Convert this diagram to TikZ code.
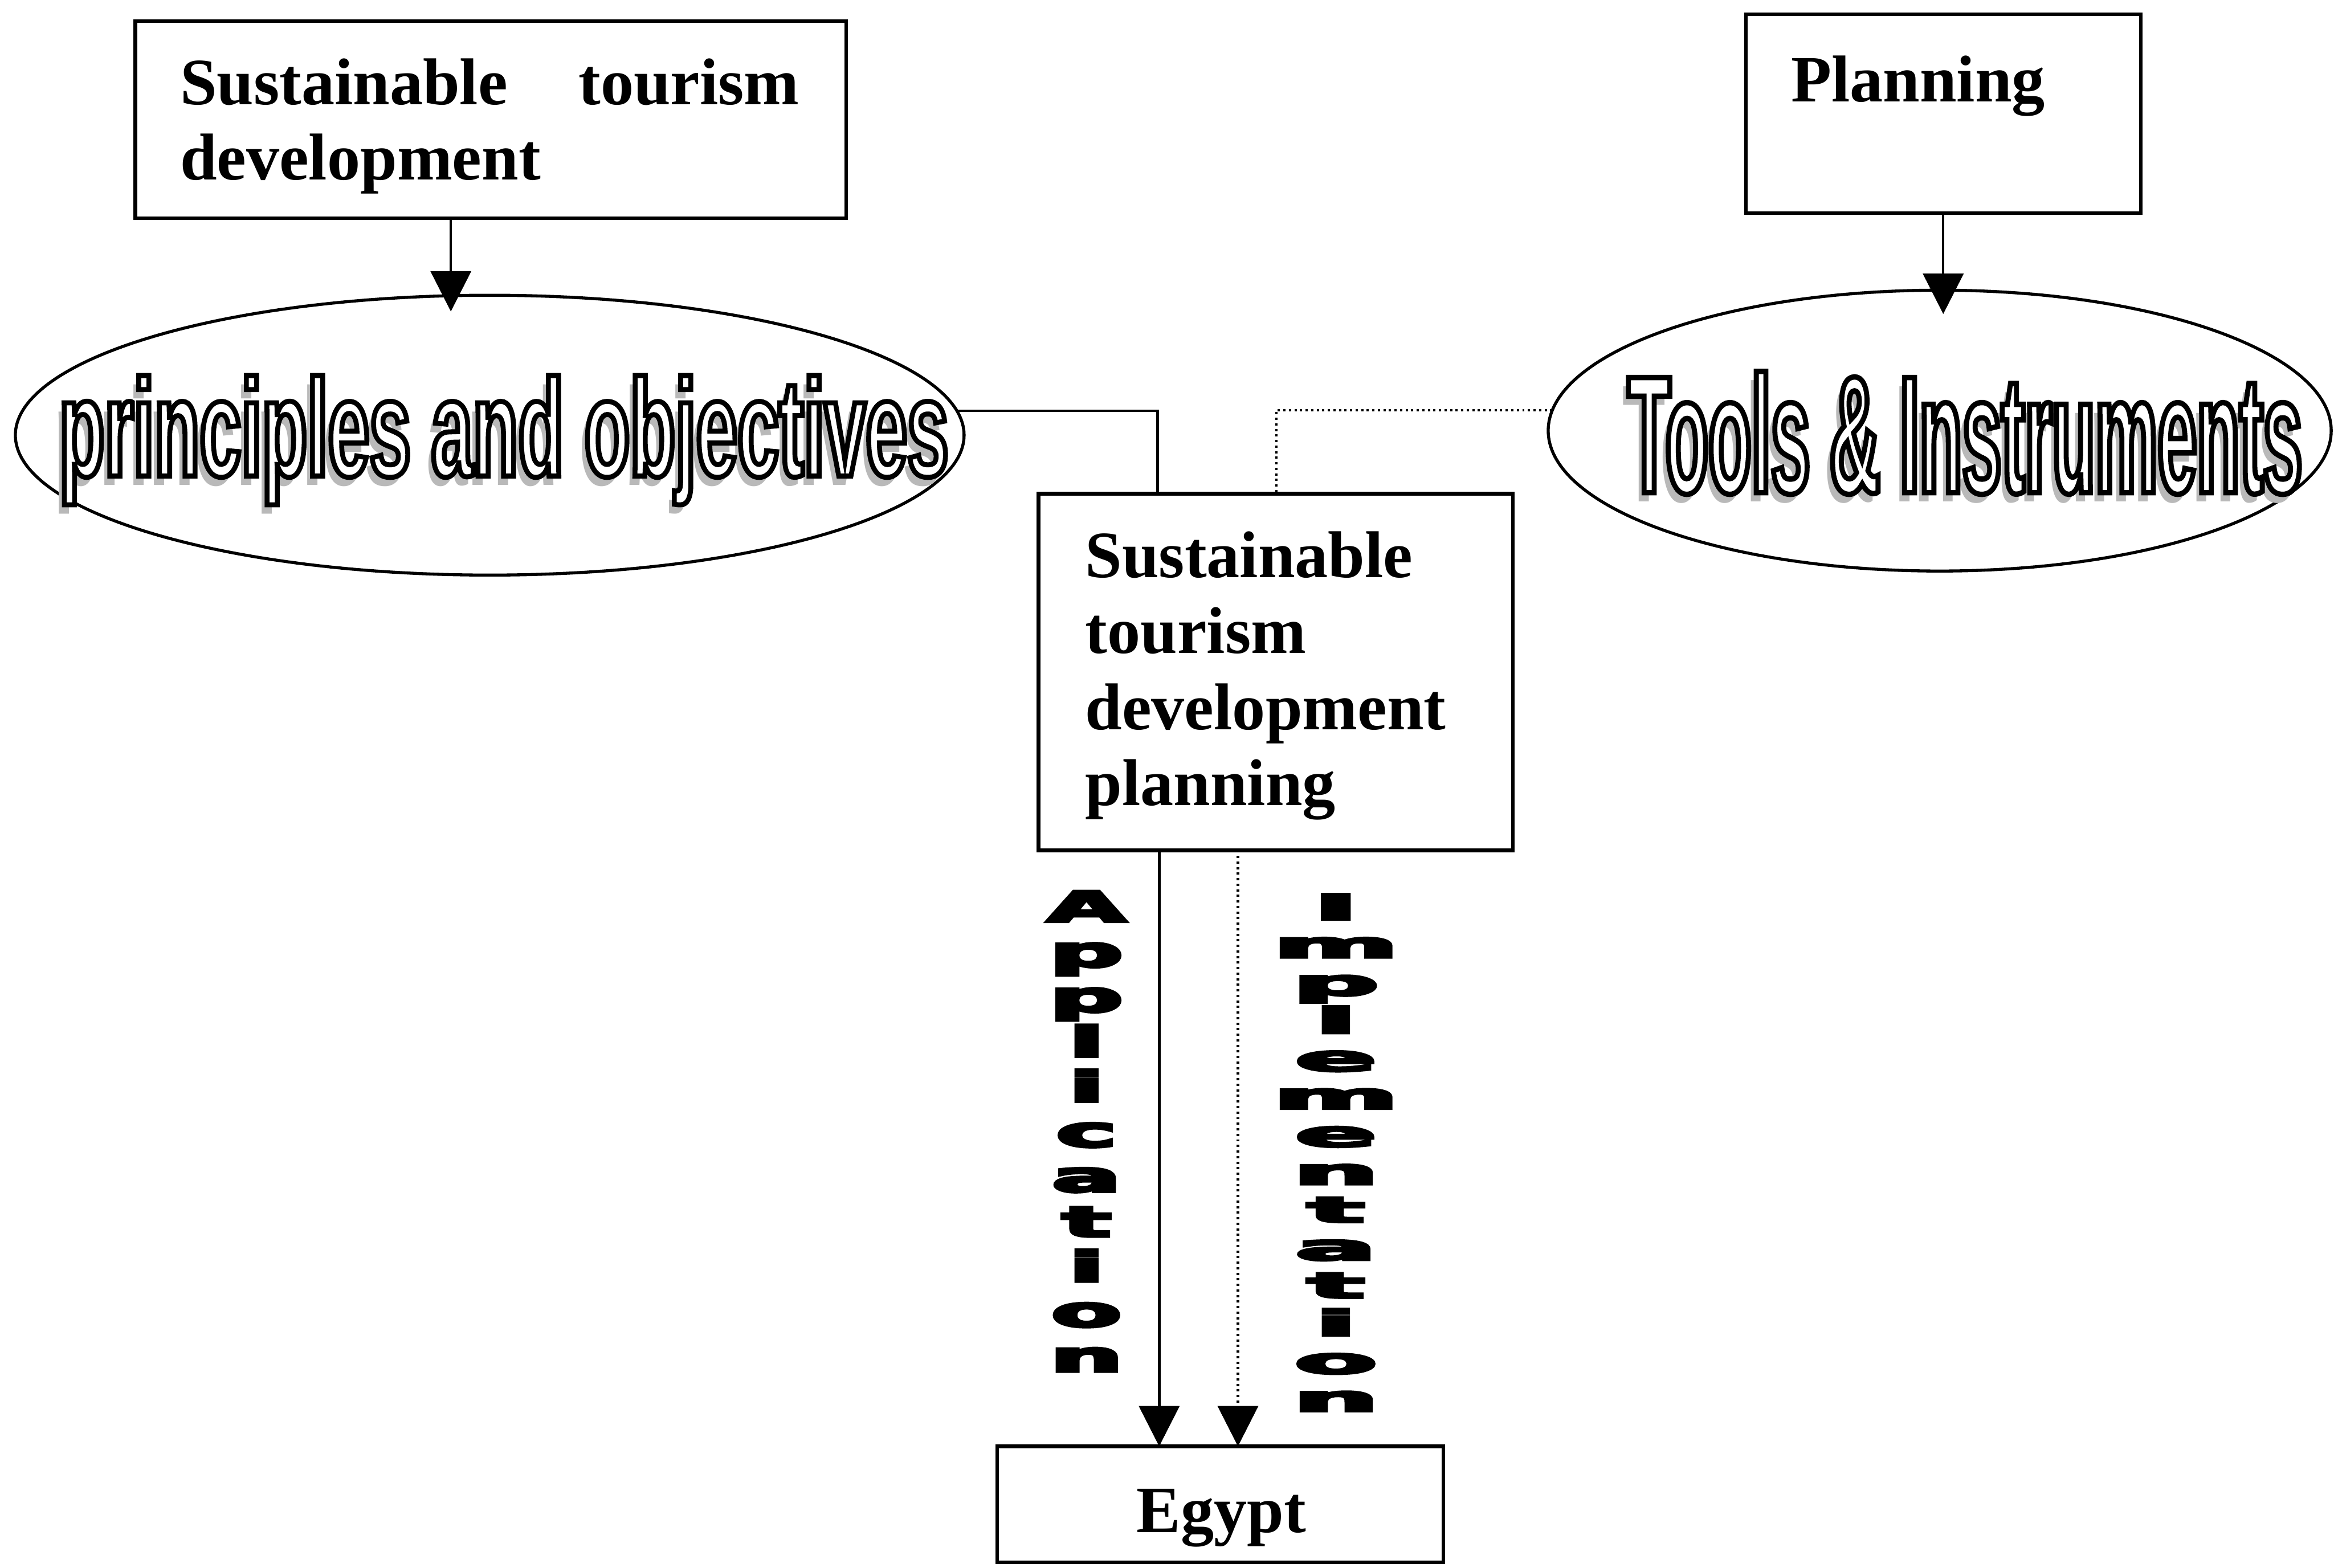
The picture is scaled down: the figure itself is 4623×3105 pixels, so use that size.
\documentclass[tikz,border=0pt]{standalone}
\usepackage{fontspec}
\setmainfont{Liberation Serif}
\newfontfamily\artA{Liberation Sans}[FakeStretch=0.55]
\newfontfamily\artB{Liberation Sans}[FakeStretch=0.45]
\newfontfamily\heavy{DejaVu Sans}[BoldFeatures={FakeBold=6}]
\usetikzlibrary{arrows.meta,shapes.geometric}

% hollow lettering: white fill, black stroke (text render mode 2)
\newcommand\hollow[2]{\special{pdf:literal direct 1 g 0 G #1 w 2 Tr}#2\special{pdf:literal direct 0 Tr 0 g 0 G}}
% stacked heavy letter, stretched sideways
\newcommand\blockletter[3]{\scalebox{#1}[#2]{#3}}

\tikzset{
  frame/.style={draw, line width=0.07cm, inner sep=0, outer sep=0, anchor=north west},
  oval/.style={draw, ellipse, line width=0.06cm, inner sep=0, outer sep=0},
  lbl/.style={inner sep=0, font=\fontsize{37.3pt}{42.3pt}\selectfont\bfseries},
  link/.style={line width=0.05cm},
  dot/.style={line width=0.05cm, dash pattern=on 0.045cm off 0.065cm},
  tip/.style={-{Triangle[length=0.8cm,width=0.8cm]}},
  art/.style={inner sep=0, anchor=base},
  vert/.style={inner sep=0, anchor=base, font=\heavy\bfseries\fontsize{25pt}{25pt}\selectfont},
}

\begin{document}
\begin{tikzpicture}[x=0.01cm, y=-0.01cm]
  \fill[white] (0,0) rectangle (4623,3105);
  \useasboundingbox (0,0) rectangle (4623,3105);

  % boxes
  \node[frame, minimum width=14.07cm, minimum height=3.90cm] (b1) at (268,42) {};
  \node[frame, minimum width=7.82cm, minimum height=3.94cm] (b2) at (3458,28) {};
  \node[frame, minimum width=9.39cm, minimum height=7.06cm] (b3) at (2057,978) {};
  \node[frame, minimum width=8.83cm, minimum height=2.30cm] (eg) at (1975,2865) {};

  % box texts
  \node[lbl, anchor=base west] (l1) at (356,207)
    {\vtop{\hbox to 12.26cm{Sustainable\hfill tourism}\hbox{development}}};
  \node[lbl, anchor=base west] (l2) at (3547,202) {Planning};
  \node[lbl, anchor=base west, font=\fontsize{37.3pt}{42.8pt}\selectfont\bfseries] (l3) at (2149,1144)
    {\vtop{\hbox{Sustainable}\hbox{tourism}\hbox{development}\hbox{planning}}};
  \node[lbl, anchor=base] (l4) at (2419,3035) {Egypt};

  % ellipses
  \node[oval, minimum width=18.78cm, minimum height=5.54cm] (e1) at (970,862) {};
  \node[oval, minimum width=15.50cm, minimum height=5.56cm] (e2) at (3842,853) {};

  % hollow lettering with a soft shadow
  \node[art, text=gray!55] (s1) at (988,961)
    {\resizebox{17.6cm}{1.99cm}{\artA\bfseries principles and objectives}};
  \node[art] (w1) at (998,943)
    {\resizebox{17.6cm}{1.99cm}{\artA\bfseries\hollow{0.36}{principles and objectives}}};
  \node[art, text=gray!55] (s2) at (3882,994)
    {\resizebox{13.35cm}{2.40cm}{\artB\bfseries Tools \& Instruments}};
  \node[art] (w2) at (3892,976)
    {\resizebox{13.35cm}{2.40cm}{\artB\bfseries\hollow{0.32}{Tools \& Instruments}}};

  % connectors
  \coordinate (p1) at (893,617);
  \coordinate (p2) at (3849,622);
  \coordinate (j1) at (2293,0);
  \coordinate (j2) at (2528,0);
  \coordinate (q1) at (2296,0);
  \coordinate (q2) at (2452,0);
  \draw[link,tip] (b1.south -| p1) -- (p1);
  \draw[link,tip] (b2.south -| p2) -- (p2);
  \draw[link] (e1.3) -- (e1.3 -| j1) -- (b3.north -| j1);
  \draw[dot] (e2.177) -- (e2.177 -| j2) -- (b3.north -| j2);
  \draw[link,tip] (b3.south -| q1) -- (eg.north -| q1);
  \draw[dot,tip] (b3.south -| q2) -- (eg.north -| q2);

  % stacked vertical labels
  \foreach \ch [count=\k] in {A,p,p,l,i,c,a,t,i,o,n}
    \node[vert] (ap\k) at (2152,{1826+(\k-1)*89.1}) {\blockletter{2.3}{0.95}{\ch}};
  \foreach \ch [count=\k] in {I,m,p,l,e,m,e,n,t,a,t,i,o,n}
    \node[vert] (im\k) at (2646,{1822+(\k-1)*74.9}) {\blockletter{2.7}{0.8}{\ch}};
\end{tikzpicture}
\end{document}
